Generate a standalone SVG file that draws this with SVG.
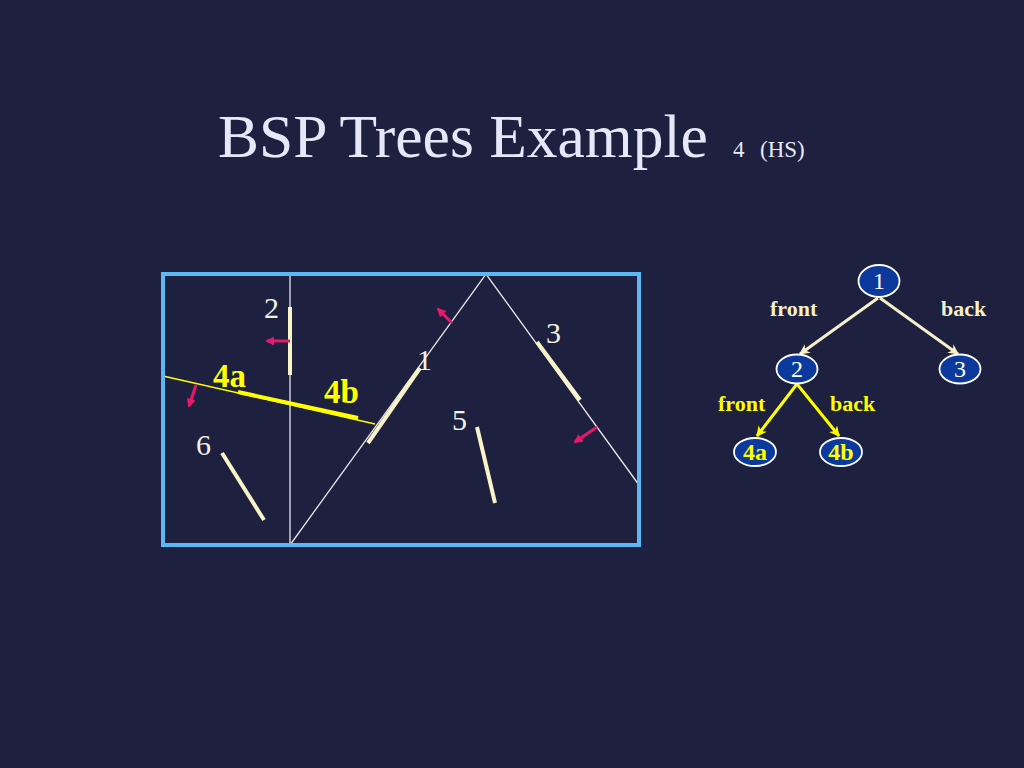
<svg xmlns="http://www.w3.org/2000/svg" width="1024" height="768" viewBox="0 0 1024 768">
<defs>
<style>
.t{font-family:"Liberation Serif","Times New Roman",serif}
.lbl{font-family:"Liberation Serif","Times New Roman",serif;font-size:30px;fill:#f2f0e0}
.ylbl{font-family:"Liberation Serif","Times New Roman",serif;font-size:33px;font-weight:bold;fill:#ffff00}
.thin{stroke:#e8e8e8;stroke-width:1.3;fill:none}
.seg{stroke:#f8f4c8;stroke-width:4;stroke-linecap:butt}
.mag{stroke:#e8186a;stroke-width:3;marker-end:url(#mh)}
.node{fill:#0b3a9c;stroke:#ffffff;stroke-width:1.8}
.ntxt{font-family:"Liberation Serif","Times New Roman",serif;font-size:24px;fill:#ffffff;text-anchor:middle}
.nytxt{font-family:"Liberation Serif","Times New Roman",serif;font-size:24px;font-weight:bold;fill:#ffff00;text-anchor:middle}
.edge{stroke:#f5f0c8;stroke-width:3;marker-end:url(#wh)}
.yedge{stroke:#ffff00;stroke-width:3;marker-end:url(#yh)}
.elbl{font-family:"Liberation Serif","Times New Roman",serif;font-size:22px;font-weight:bold;fill:#f5f0c8}
.eylbl{font-family:"Liberation Serif","Times New Roman",serif;font-size:22px;font-weight:bold;fill:#ffff00}
</style>
<marker id="mh" viewBox="0 0 10 10" refX="8" refY="5" markerWidth="3" markerHeight="3" orient="auto" markerUnits="strokeWidth"><path d="M0,0 L10,5 L0,10 z" fill="#e8186a"/></marker>
<marker id="wh" viewBox="0 0 10 10" refX="9" refY="5" markerWidth="3.5" markerHeight="3.5" orient="auto" markerUnits="strokeWidth"><path d="M0,0 L10,5 L0,10 L3,5 z" fill="#f5f0c8"/></marker>
<marker id="yh" viewBox="0 0 10 10" refX="9" refY="5" markerWidth="3.5" markerHeight="3.5" orient="auto" markerUnits="strokeWidth"><path d="M0,0 L10,5 L0,10 L3,5 z" fill="#ffff00"/></marker>
</defs>
<rect x="0" y="0" width="1024" height="768" fill="#1e2040"/>
<g id="title">
<text class="t" x="218" y="157" font-size="61.5" fill="#e6e8f8">BSP Trees Example</text>
<text class="t" x="733" y="157" font-size="23" fill="#e6e8f8">4<tspan x="760">(HS)</tspan></text>
</g>
<g id="scene">
<line class="thin" x1="290" y1="274" x2="290" y2="545"/>
<polyline class="thin" points="290,545 486,274 639,485"/>
<line x1="163" y1="376" x2="375" y2="424" stroke="#ffff00" stroke-width="1.5"/>
<line x1="238" y1="392" x2="358" y2="418" stroke="#ffff00" stroke-width="4"/>
<rect x="163" y="274" width="476" height="271" fill="none" stroke="#5bb8f5" stroke-width="4"/>
<line class="seg" x1="290" y1="307" x2="290" y2="375"/>
<line class="seg" x1="368" y1="443" x2="420" y2="368"/>
<line class="seg" x1="537" y1="342" x2="580" y2="400"/>
<line class="seg" x1="477" y1="427" x2="495" y2="503"/>
<line class="seg" x1="222" y1="453" x2="264" y2="520"/>
<line class="mag" x1="290" y1="341" x2="267" y2="341"/>
<line class="mag" x1="196" y1="385" x2="189" y2="406"/>
<line class="mag" x1="452" y1="323" x2="438" y2="309"/>
<line class="mag" x1="597" y1="427" x2="575" y2="442"/>
<text class="lbl" x="264" y="318">2</text>
<text class="lbl" x="417" y="370">1</text>
<text class="lbl" x="546" y="343">3</text>
<text class="lbl" x="452" y="430">5</text>
<text class="lbl" x="196" y="455">6</text>
<text class="ylbl" x="213" y="387">4a</text>
<text class="ylbl" x="324" y="403">4b</text>
</g>
<g id="connectors">
<line class="edge" x1="878" y1="298" x2="800" y2="354"/>
<line class="edge" x1="880" y1="298" x2="958" y2="354"/>
<line class="yedge" x1="797" y1="384" x2="757" y2="436"/>
<line class="yedge" x1="797" y1="384" x2="839" y2="436"/>
<text class="elbl" x="770" y="316">front</text>
<text class="elbl" x="941" y="316">back</text>
<text class="eylbl" x="718" y="411">front</text>
<text class="eylbl" x="830" y="411">back</text>
</g>
<g id="n1"><ellipse class="node" cx="879" cy="281" rx="20.5" ry="16"/><text class="ntxt" x="879" y="289">1</text></g>
<g id="n2"><ellipse class="node" cx="797" cy="369" rx="20.5" ry="14.5"/><text class="ntxt" x="797" y="377">2</text></g>
<g id="n3"><ellipse class="node" cx="960" cy="369" rx="20.5" ry="14.5"/><text class="ntxt" x="960" y="377">3</text></g>
<g id="n4a"><ellipse class="node" cx="755" cy="452" rx="21" ry="14"/><text class="nytxt" x="755" y="460">4a</text></g>
<g id="n4b"><ellipse class="node" cx="841" cy="452" rx="21" ry="14"/><text class="nytxt" x="841" y="460">4b</text></g>
</svg>
